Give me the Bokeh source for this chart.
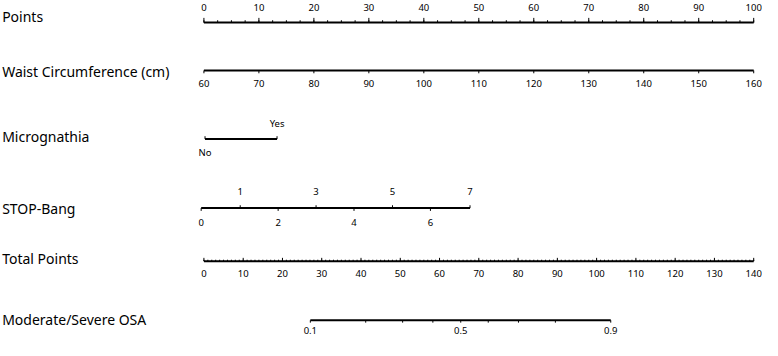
from bokeh.plotting import figure
from bokeh.models import Range1d
from bokeh.core.properties import value
from bokeh.embed import file_html
from bokeh.resources import INLINE

# ---------------- data ----------------
row_titles = ["Points", "Waist Circumference (cm)", "Micrognathia",
              "STOP-Bang", "Total Points", "Moderate/Severe OSA"]

points_major = [0, 10, 20, 30, 40, 50, 60, 70, 80, 90, 100]
points_minor = [i * 2.5 for i in range(41)]

waist_values = [60, 70, 80, 90, 100, 110, 120, 130, 140, 150, 160]
waist_points = [0, 10, 20, 30, 40, 50, 60, 70, 80, 90, 100]

micro_labels = ["No", "Yes"]
micro_points = [0.2, 13.3]

stop_values = [0, 1, 2, 3, 4, 5, 6, 7]
stop_points = [-0.5, 6.6, 13.5, 20.4, 27.3, 34.3, 41.2, 48.4]

total_major = [0, 10, 20, 30, 40, 50, 60, 70, 80, 90, 100, 110, 120, 130, 140]
total_minor = list(range(0, 141))
total_max = 140

osa_probs = [0.1, 0.2, 0.3, 0.4, 0.5, 0.6, 0.7, 0.8, 0.9]
osa_total = [27.1, 41.2, 50.6, 58.3, 65.4, 72.4, 80.1, 89.5, 103.6]
osa_labeled = [0.1, 0.5, 0.9]

# ---------------- layout constants (rows, in reference pixel rows) ----------------
W, H = 762, 340
X0, X1 = -37.0, 101.6
FONT = "Noto Sans"
TITLE_SIZE = "14px"
TICK_SIZE = "9.5px"
COL = "#000000"

Y_LINE = {"points": 21.5, "waist": 72.5, "micro": 145.5, "stop": 219.0, "total": 275.5, "osa": 338.5}
Y_TITLE = [15.5, 74.0, 143.0, 219.5, 273.0, 337.5]

p = figure(width=W, height=H, x_range=Range1d(X0, X1), y_range=Range1d(360, -2),
           output_backend="svg", toolbar_location=None, min_border=0)
p.axis.visible = False
p.grid.visible = False
p.outline_line_color = None
p.background_fill_color = "white"
p.border_fill_color = "white"


def hline(x_start, x_end, y, width=2):
    p.segment(x0=[x_start], y0=[y], x1=[x_end], y1=[y], line_color=COL, line_width=width)


def ticks(xs, y, length, width=1):
    p.segment(x0=list(xs), y0=[y] * len(xs), x1=list(xs), y1=[y + length] * len(xs),
              line_color=COL, line_width=width)


def labels(xs, y, texts, size=TICK_SIZE):
    p.text(x=list(xs), y=[y] * len(xs), text=[str(t) for t in texts],
           text_font=value(FONT), text_font_size=value(size), text_color=COL,
           text_align="center", text_baseline="middle")


# titles
p.text(x=[X0 + 0.3] * len(row_titles), y=Y_TITLE, text=row_titles,
       text_font=value(FONT), text_font_size=value(TITLE_SIZE), text_color=COL,
       text_align="left", text_baseline="middle")

# Points row
y = Y_LINE["points"]
hline(points_major[0], points_major[-1], y)
ticks(points_minor, y, -2.5)
ticks(points_major, y, -5)
labels(points_major, 5.5, points_major)

# Waist row
y = Y_LINE["waist"]
hline(waist_points[0], waist_points[-1], y)
ticks(waist_points, y, 3)
labels(waist_points, 86.5, waist_values)

# Micrognathia row
y = Y_LINE["micro"]
hline(micro_points[0], micro_points[-1], y)
ticks(micro_points, y, -3)
labels([micro_points[1]], 129.0, [micro_labels[1]])
labels([micro_points[0]], 160.0, [micro_labels[0]])

# STOP-Bang row
y = Y_LINE["stop"]
hline(stop_points[0], stop_points[-1], y)
odd_x = [pt for v, pt in zip(stop_values, stop_points) if v % 2 == 1]
odd_v = [v for v in stop_values if v % 2 == 1]
even_x = [pt for v, pt in zip(stop_values, stop_points) if v % 2 == 0]
even_v = [v for v in stop_values if v % 2 == 0]
ticks(odd_x, y, -3)
ticks(even_x, y, 3)
labels(odd_x, 201.5, odd_v)
labels(even_x, 234.0, even_v)

# Total Points row
y = Y_LINE["total"]
scale = 100.0 / total_max
hline(total_major[0] * scale, total_major[-1] * scale, y)
ticks([t * scale for t in total_minor], y, -1.5)
ticks([t * scale for t in total_major], y, -3.5)
labels([t * scale for t in total_major], 288.5, total_major)

# Moderate/Severe OSA row
y = Y_LINE["osa"]
osa_x = [t * scale for t in osa_total]
hline(osa_x[0], osa_x[-1], y)
ticks(osa_x, y, 2.5)
lab_x = [x for pr, x in zip(osa_probs, osa_x) if pr in osa_labeled]
labels(lab_x, 349.0, [str(pr) for pr in osa_probs if pr in osa_labeled])

open("out.html", "w").write(file_html(p, INLINE))
